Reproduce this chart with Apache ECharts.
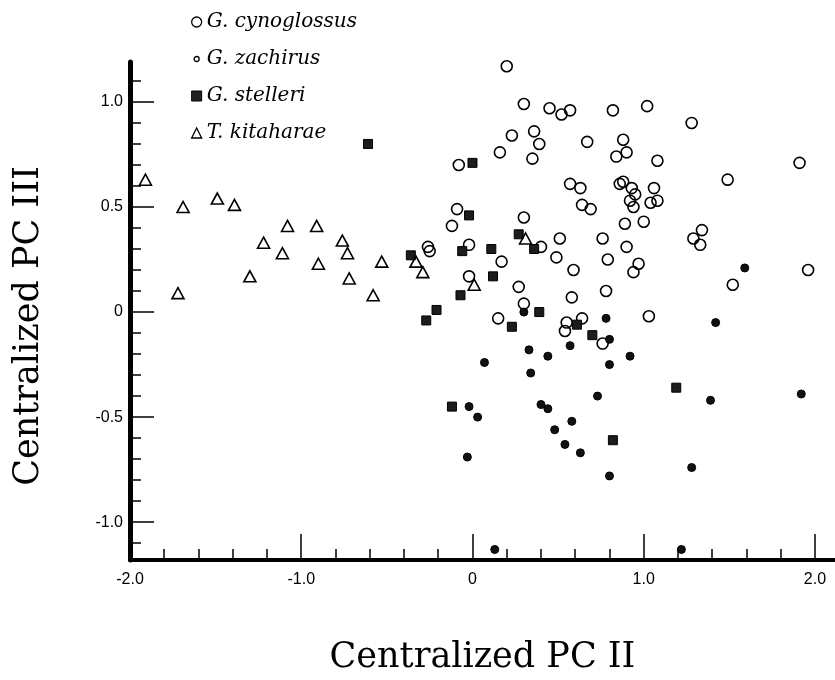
<!DOCTYPE html>
<html>
<head>
<meta charset="utf-8">
<script src="https://cdn.jsdelivr.net/npm/echarts@6/dist/echarts.min.js"></script>
<style>
  html, body { margin: 0; background: #fff; }
  #chart { width: 835px; height: 680px; }
</style>
</head>
<body>
<div id="chart"></div>
<script>
// species names (legend order)
const speciesNames = ["G. cynoglossus", "G. zachirus", "G. stelleri", "T. kitaharae"];

// [PC II, PC III] per specimen
const cynoglossus = [
  [0.20, 1.17], [0.30, 0.99], [0.45, 0.97], [0.52, 0.94], [0.57, 0.96], [0.82, 0.96],
  [1.02, 0.98], [1.28, 0.90], [0.23, 0.84], [0.36, 0.86], [0.39, 0.80], [0.16, 0.76],
  [0.35, 0.73], [0.67, 0.81], [0.88, 0.82], [0.90, 0.76], [0.84, 0.74], [1.08, 0.72],
  [1.91, 0.71], [-0.08, 0.70], [1.49, 0.63], [0.57, 0.61], [0.63, 0.59], [0.86, 0.61],
  [0.88, 0.62], [0.93, 0.59], [0.95, 0.56], [0.92, 0.53], [0.94, 0.50], [1.06, 0.59],
  [1.08, 0.53], [1.04, 0.52], [0.64, 0.51], [0.69, 0.49], [-0.09, 0.49], [-0.12, 0.41],
  [0.30, 0.45], [0.89, 0.42], [1.00, 0.43], [1.34, 0.39], [1.29, 0.35], [1.33, 0.32],
  [0.51, 0.35], [0.76, 0.35], [-0.02, 0.32], [-0.26, 0.31], [-0.25, 0.29], [0.40, 0.31],
  [0.90, 0.31], [0.17, 0.24], [0.49, 0.26], [0.79, 0.25], [0.97, 0.23], [0.94, 0.19],
  [0.59, 0.20], [1.96, 0.20], [-0.02, 0.17], [1.52, 0.13], [0.27, 0.12], [0.58, 0.07],
  [0.78, 0.10], [0.30, 0.04], [0.15, -0.03], [0.55, -0.05], [0.64, -0.03], [0.54, -0.09],
  [0.76, -0.15], [1.03, -0.02]
];

const zachirus = [
  [0.30, 0.00], [0.78, -0.03], [0.80, -0.13], [0.57, -0.16], [0.33, -0.18], [0.44, -0.21],
  [0.07, -0.24], [0.92, -0.21], [0.80, -0.25], [0.34, -0.29], [0.73, -0.40], [-0.02, -0.45],
  [0.03, -0.50], [0.40, -0.44], [0.44, -0.46], [0.58, -0.52], [0.48, -0.56], [0.54, -0.63],
  [0.63, -0.67], [-0.03, -0.69], [0.80, -0.78], [1.59, 0.21], [1.42, -0.05], [1.92, -0.39],
  [1.39, -0.42], [1.28, -0.74], [0.13, -1.13], [1.22, -1.13]
];

const stelleri = [
  [-0.61, 0.80], [0.00, 0.71], [-0.02, 0.46], [0.27, 0.37], [0.11, 0.30], [0.36, 0.30],
  [-0.36, 0.27], [-0.06, 0.29], [0.12, 0.17], [-0.07, 0.08], [-0.21, 0.01], [-0.27, -0.04],
  [0.39, 0.00], [0.23, -0.07], [0.61, -0.06], [0.70, -0.11], [1.19, -0.36], [-0.12, -0.45],
  [0.82, -0.61]
];

const kitaharae = [
  [-1.91, 0.63], [-1.69, 0.50], [-1.49, 0.54], [-1.39, 0.51], [-1.72, 0.09], [-1.30, 0.17],
  [-1.22, 0.33], [-1.11, 0.28], [-1.08, 0.41], [-0.91, 0.41], [-0.90, 0.23], [-0.76, 0.34],
  [-0.73, 0.28], [-0.72, 0.16], [-0.58, 0.08], [-0.53, 0.24], [-0.33, 0.24], [-0.29, 0.19],
  [0.01, 0.13], [0.31, 0.35]
];

// axis ticks
const xMajorTicks = [-2.0, -1.0, 0, 1.0, 2.0];
const xMinorTicks = [-1.8, -1.6, -1.4, -1.2, -1.0, -0.8, -0.6, -0.4, -0.2, 0, 0.2, 0.4,
  0.6, 0.8, 1.0, 1.2, 1.4, 1.6, 1.8, 2.0];
const yMajorTicks = [-1.0, -0.5, 0, 0.5, 1.0];
const yMinorTicks = [-1.1, -1.0, -0.9, -0.8, -0.7, -0.6, -0.5, -0.4, -0.3, -0.2, -0.1, 0,
  0.1, 0.2, 0.3, 0.4, 0.5, 0.6, 0.7, 0.8, 0.9, 1.0, 1.1];

const X_MIN = -2.0, X_MAX = 2.117;
const Y_MIN = -1.18, Y_MAX = 1.19;

const tickFmt = (v) => (Math.abs(v) < 1e-9 ? "0" : v.toFixed(1));
const labelFont = { color: "#000", fontFamily: "Liberation Sans", fontSize: 16 };
const titleFont = { color: "#000", fontFamily: "DejaVu Serif", fontSize: 35 };

// small open circle for the zachirus legend key
const smallCircleIcon = "image://data:image/svg+xml;utf8," + encodeURIComponent(
  '<svg xmlns="http://www.w3.org/2000/svg" width="20" height="20"><circle cx="10" cy="10" r="5" fill="white" stroke="black" stroke-width="2.6"/></svg>');

function majorX() {
  return {
    type: "value", position: "bottom", min: X_MIN, max: X_MAX,
    name: "Centralized PC II", nameLocation: "middle", nameGap: 80, nameTextStyle: titleFont,
    axisLine: { show: true, onZero: false, lineStyle: { color: "#000", width: 4 } },
    axisTick: { show: true, inside: true, length: 26, customValues: xMajorTicks, lineStyle: { color: "#000", width: 1.5 } },
    axisLabel: { show: true, margin: 12, customValues: xMajorTicks, formatter: tickFmt, ...labelFont },
    splitLine: { show: false }
  };
}
function minorX() {
  return {
    type: "value", position: "bottom", min: X_MIN, max: X_MAX,
    axisLine: { show: false, onZero: false },
    axisTick: { show: true, inside: true, length: 11, customValues: xMinorTicks, lineStyle: { color: "#000", width: 1.5 } },
    axisLabel: { show: false },
    splitLine: { show: false }
  };
}
function majorY() {
  return {
    type: "value", position: "left", min: Y_MIN, max: Y_MAX,
    name: "Centralized PC III", nameLocation: "middle", nameRotate: 90, nameGap: 84,
    nameTextStyle: { ...titleFont, padding: [0, 30, 0, 0] },
    axisLine: { show: true, onZero: false, lineStyle: { color: "#000", width: 5 } },
    axisTick: { show: true, inside: true, length: 24, customValues: yMajorTicks, lineStyle: { color: "#000", width: 1.5 } },
    axisLabel: { show: true, margin: 7, customValues: yMajorTicks, formatter: tickFmt, ...labelFont },
    splitLine: { show: false }
  };
}
function minorY() {
  return {
    type: "value", position: "left", min: Y_MIN, max: Y_MAX,
    axisLine: { show: false, onZero: false },
    axisTick: { show: true, inside: true, length: 11, customValues: yMinorTicks, lineStyle: { color: "#000", width: 1.5 } },
    axisLabel: { show: false },
    splitLine: { show: false }
  };
}

const openStyle = { color: "rgba(255,255,255,0)", borderColor: "#000", borderWidth: 1.6, opacity: 1 };

const chart = echarts.init(document.getElementById("chart"), null, { renderer: "canvas" });
chart.setOption({
  animation: false,
  backgroundColor: "#fff",
  grid: { left: 130, right: 0, top: 62, bottom: 120, containLabel: false },
  legend: {
    orient: "vertical", left: 186, top: 6, itemGap: 15, itemWidth: 10, itemHeight: 10,
    textStyle: { color: "#000", fontFamily: "DejaVu Serif", fontStyle: "italic", fontSize: 20, lineHeight: 22 },
    data: [
      { name: speciesNames[0], icon: "circle", itemStyle: { color: "#fff", borderColor: "#000", borderWidth: 1.3 } },
      { name: speciesNames[1], icon: smallCircleIcon },
      { name: speciesNames[2], icon: "rect", itemStyle: { color: "#222", borderColor: "#000", borderWidth: 1 } },
      { name: speciesNames[3], icon: "triangle", itemStyle: { color: "#fff", borderColor: "#000", borderWidth: 1.3 } }
    ]
  },
  xAxis: [majorX(), minorX()],
  yAxis: [majorY(), minorY()],
  series: [
    { name: speciesNames[0], type: "scatter", data: cynoglossus, symbol: "circle", symbolSize: 11, itemStyle: openStyle },
    { name: speciesNames[1], type: "scatter", data: zachirus, symbol: "circle", symbolSize: 8,
      itemStyle: { color: "#111", borderColor: "#000", borderWidth: 1, opacity: 1 } },
    { name: speciesNames[2], type: "scatter", data: stelleri, symbol: "rect", symbolSize: 9,
      itemStyle: { color: "#1c1c1c", borderColor: "#000", borderWidth: 1, opacity: 1 } },
    { name: speciesNames[3], type: "scatter", data: kitaharae, symbol: "triangle", symbolSize: [12, 11], itemStyle: openStyle }
  ]
});
</script>
</body>
</html>
